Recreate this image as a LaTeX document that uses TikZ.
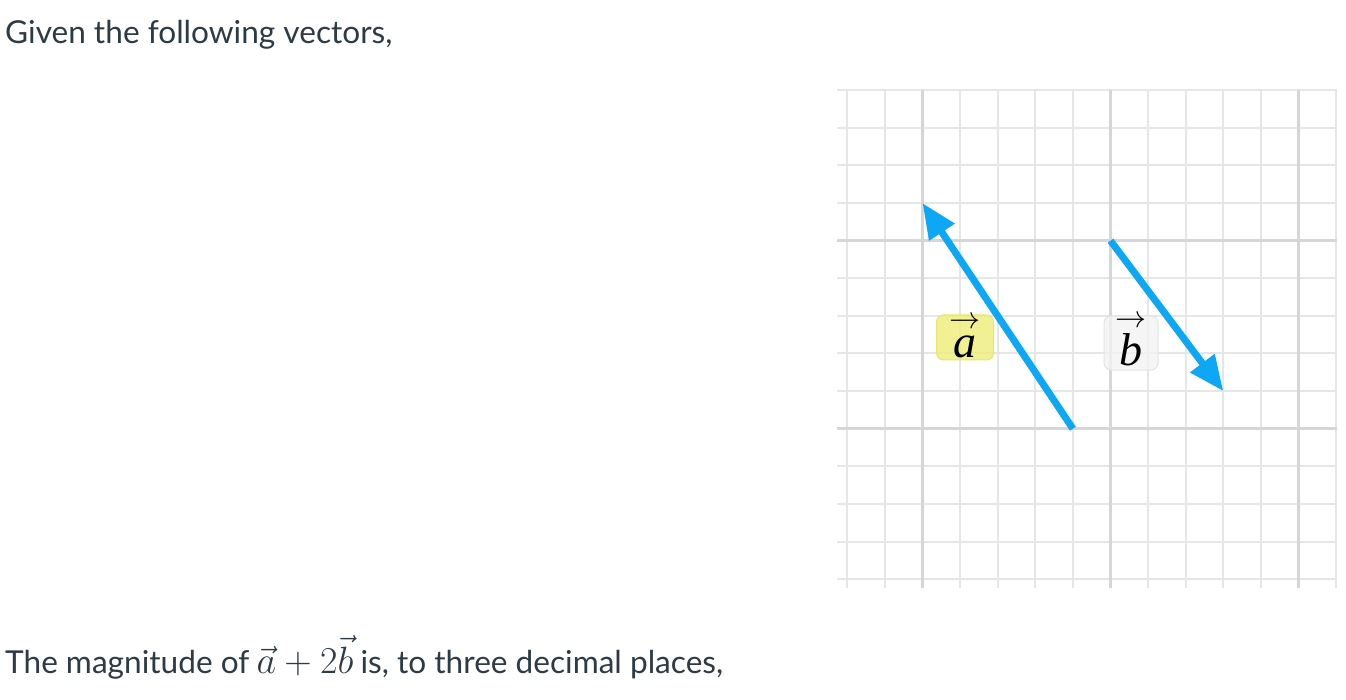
\RequirePackage{fix-cm}
\documentclass[tikz,border=0pt]{standalone}
\usepackage{fontspec}
\setmainfont{Lato}
\newfontfamily\labelserif{Liberation Serif}
\usetikzlibrary{arrows.meta}
\definecolor{txt}{HTML}{2D3B45}
\definecolor{minorgrid}{HTML}{E6E6E6}
\definecolor{majorgrid}{HTML}{D6D6D6}
\definecolor{vecblue}{RGB}{14,167,245}
\definecolor{labyellow}{RGB}{238,238,120}
\definecolor{labyellowdraw}{RGB}{230,230,110}
\definecolor{labgrey}{HTML}{F2F2F2}
\definecolor{labgreydraw}{HTML}{E4E4E4}
\tikzset{
  minorline/.style={draw=minorgrid, line width=2pt},
  majorline/.style={draw=majorgrid, line width=3pt},
  vecarrow/.style={draw=vecblue, line width=7pt, -{Triangle[length=35pt,width=29pt]}},
  labelbox/.style={rounded corners=7pt, line width=1pt, fill opacity=0.8, inner sep=0pt},
  labelletter/.style={anchor=base, inner sep=0pt, font=\fontsize{46}{46}\selectfont\labelserif\itshape},
  labelarrow/.style={inner sep=0pt, font=\fontsize{31}{31}\selectfont},
  bodytext/.style={anchor=base west, inner sep=0pt, text=txt, font=\fontsize{31.6}{36}\selectfont},
}
\begin{document}
\begin{tikzpicture}[x=1pt,y=-1pt]
\useasboundingbox (0,0) rectangle (1346,700);
% grid
\foreach \k in {0,...,13}{
  \pgfmathsetmacro{\xx}{847.3+37.6*\k}
  \ifnum\k=2 \else\ifnum\k=7 \else\ifnum\k=12 \else
    \draw[minorline] (\xx,90) -- (\xx,588);
  \fi\fi\fi
}
\foreach \j in {0,...,13}{
  \pgfmathsetmacro{\yy}{90.3+37.6*\j}
  \ifnum\j=4 \else\ifnum\j=9 \else
    \draw[minorline] (837,\yy) -- (1337,\yy);
  \fi\fi
}
\foreach \k in {2,7,12}{
  \pgfmathsetmacro{\xx}{847.3+37.6*\k}
  \draw[majorline] (\xx,90) -- (\xx,588);
}
\foreach \j in {4,9}{
  \pgfmathsetmacro{\yy}{90.3+37.6*\j}
  \draw[majorline] (837,\yy) -- (1337,\yy);
}
% label boxes
\node[labelbox, draw=labyellowdraw, fill=labyellow, minimum width=57pt, minimum height=45pt] (la) at (965,337.5) {};
\node[labelbox, draw=labgreydraw, fill=labgrey, minimum width=54pt, minimum height=54pt] (lb) at (1131,343) {};
\node[labelletter] (la-letter) at (965,357.5) {a};
\node[labelarrow] (la-arrow) at (964.7,323.3) {$\rightarrow$};
\node[labelletter] (lb-letter) at (1131,366) {b};
\node[labelarrow] (lb-arrow) at (1130.5,321.7) {$\rightarrow$};
% vectors
\coordinate (a0) at (1072.9,428.7);
\coordinate (a1) at (922.5,203.1);
\coordinate (b0) at (1110.5,240.7);
\coordinate (b1) at (1223.3,391.1);
\draw[vecarrow] (a0) -- (a1);
\draw[vecarrow] (b0) -- (b1);
% texts
\node[bodytext] (t1) at (5,43.3) {Given the following vectors,};
\node[bodytext] (t2) at (5,673) {The magnitude of\hspace{-1pt} {\fontsize{38}{38}\selectfont$\vec{a}+2\vec{b}$}\hspace{-1pt} is, to three decimal places,};
\end{tikzpicture}
\end{document}
